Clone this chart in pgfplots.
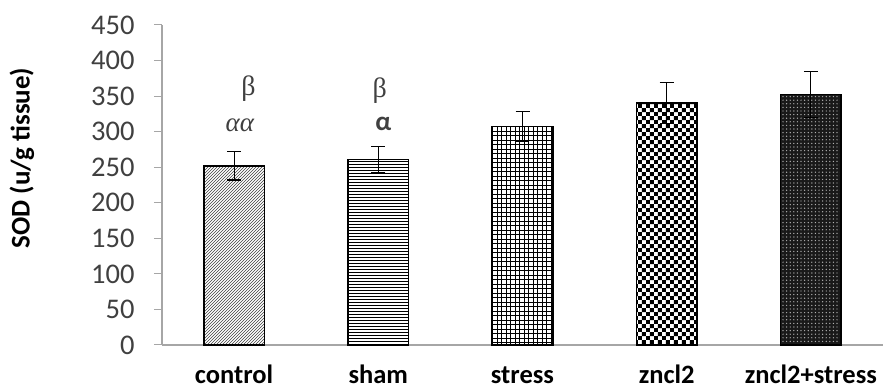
\documentclass[border=0pt]{standalone}
\usepackage{pgfplots}
\pgfplotsset{compat=1.18}
\usepackage{fontspec}
\setmainfont{Carlito}
\newfontfamily\serifgreek{Liberation Serif}
\usetikzlibrary{patterns}
\definecolor{axgray}{HTML}{A6A6A6}
\definecolor{txtgray}{HTML}{404040}
\pgfdeclarepatternformonly{smallcheck}{\pgfpointorigin}{\pgfpoint{8.4pt}{8.4pt}}{\pgfpoint{8.4pt}{8.4pt}}{%
  \pgfpathrectangle{\pgfpointorigin}{\pgfpoint{4.2pt}{4.2pt}}%
  \pgfpathrectangle{\pgfpoint{4.2pt}{4.2pt}}{\pgfpoint{4.2pt}{4.2pt}}%
  \pgfusepath{fill}}
\pgfdeclarepatternformonly{finedots}{\pgfpoint{-1pt}{-1pt}}{\pgfpoint{4pt}{4pt}}{\pgfpoint{3.6pt}{3.6pt}}{%
  \pgfpathcircle{\pgfpoint{1.8pt}{1.8pt}}{0.7pt}%
  \pgfusepath{fill}}
\pgfdeclarepatternformonly{finegrid}{\pgfpoint{-0.5pt}{-0.5pt}}{\pgfpoint{5pt}{5pt}}{\pgfpoint{4.5pt}{4.5pt}}{%
  \pgfsetlinewidth{0.9pt}%
  \pgfpathmoveto{\pgfpoint{2.25pt}{0pt}}\pgfpathlineto{\pgfpoint{2.25pt}{4.5pt}}%
  \pgfpathmoveto{\pgfpoint{0pt}{2.25pt}}\pgfpathlineto{\pgfpoint{4.5pt}{2.25pt}}%
  \pgfusepath{stroke}}
\begin{document}
\begin{tikzpicture}
\useasboundingbox (-162pt,-45pt) rectangle (721pt,345pt);
\begin{axis}[
  at={(0,0)}, anchor=south west,
  scale only axis,
  width=721pt, height=320pt,
  xmin=-0.5, xmax=4.5,
  ymin=0, ymax=450,
  ytick={0,50,...,450},
  yticklabel={\pgfmathprintnumber{\tick}},
  xtick={0,1,2,3,4},
  xticklabels={control,sham,stress,zncl2,zncl2+stress},
  x tick label style={font=\fontsize{26.5}{30}\selectfont\bfseries, text=black, anchor=base, yshift=-31pt},
  y tick label style={font=\fontsize{28.5}{32}\selectfont, text=txtgray, anchor=east, xshift=-16pt},
  /pgf/number format/assume math mode=true,
  major x tick style={draw=none},
  extra x ticks={0.5,1.5,2.5,3.5},
  extra x tick labels={},
  extra x tick style={major tick length=12pt, tick style={draw=axgray, line width=1pt}, tick pos=left},
  axis x line*=bottom, axis y line*=left,
  axis line style={draw=axgray, line width=1.2pt, -},
  tick align=outside,
  ytick style={draw=axgray, line width=1pt},
  major tick length=8pt,
  ylabel={\bfseries SOD (u/g tissue)},
  every axis y label/.style={at={(axis description cs:0,0.584)}, xshift=-140pt, rotate=90, anchor=center,
    font=\fontsize{27}{30}\selectfont, text=black},
  bar width=0.42,
  ybar, bar shift=0pt,
  clip=false,
  every error bar/.style={line width=1.1pt, black},
]
\addplot[draw=black, line width=1.6pt, pattern=north east lines, pattern color=black!75,
  error bars/.cd, y dir=both, y explicit, error mark options={rotate=90, mark size=7pt, line width=1.1pt}]
  coordinates {(0,252) +- (0,20)};
\addplot[draw=black, line width=1.6pt, pattern=horizontal lines, pattern color=black,
  error bars/.cd, y dir=both, y explicit, error mark options={rotate=90, mark size=7pt, line width=1.1pt}]
  coordinates {(1,261) +- (0,18)};
\addplot[draw=black, line width=1.6pt, pattern=finegrid, pattern color=black,
  error bars/.cd, y dir=both, y explicit, error mark options={rotate=90, mark size=7pt, line width=1.1pt}]
  coordinates {(2,307) +- (0,21)};
\addplot[draw=black, line width=1.6pt, pattern=smallcheck, pattern color=black,
  error bars/.cd, y dir=both, y explicit, error mark options={rotate=90, mark size=7pt, line width=1.1pt}]
  coordinates {(3,340) +- (0,29)};
\addplot[draw=black, line width=1.6pt, fill=black!90, postaction={pattern=finedots, pattern color=white!70!black},
  error bars/.cd, y dir=both, y explicit, error mark options={rotate=90, mark size=7pt, line width=1.1pt}]
  coordinates {(4,352) +- (0,32)};
\node[font=\fontsize{28}{32}\selectfont, text=txtgray] at (axis cs:0.1,361) {\serifgreek β};
\node[font=\fontsize{27}{30}\selectfont, text=txtgray] at (axis cs:0.04,309) {\serifgreek\itshape αα};
\node[font=\fontsize{28}{32}\selectfont, text=txtgray] at (axis cs:1.01,358) {\serifgreek β};
\node[font=\fontsize{27}{30}\selectfont\bfseries, text=txtgray] at (axis cs:1.035,311) {α};
\end{axis}
\end{tikzpicture}
\end{document}
